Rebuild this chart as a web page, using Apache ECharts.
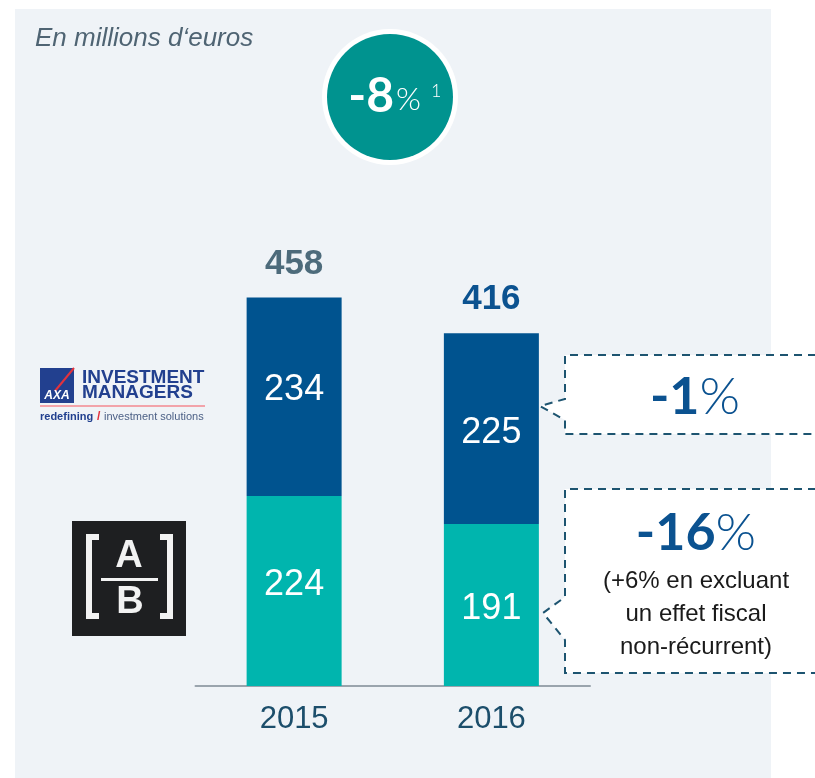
<!DOCTYPE html>
<html lang="fr">
<head>
    <meta charset="UTF-8">
    <title>Résultat opérationnel</title>
    <style>
        *{
            margin: 0;
            padding: 0;
        }
        body{
            background: #fff;
        }
        .main{
            width: 815px;
            height: 778px;
        }
    </style>
    <script src="https://cdn.jsdelivr.net/npm/echarts@6/dist/echarts.min.js"></script>
</head>
<body>
<div class="main"></div>
<script>
    // data
    let years = ['2015', '2016'];
    let abValues = [224, 191];
    let axaValues = [234, 225];
    let totals = [458, 416];
    let totalColors = ['#4d6b7b', '#0b5290'];
    // small nudges of the value labels inside the bars (px)
    let abShift = [-6, 4];
    let axaShift = [-7, 4];

    let main = document.querySelector('.main');
    let chart = echarts.init(main);

    let dash = [8, 6];
    let lineColor = '#1d5470';
    let futura = 'Lato, "Noto Sans", sans-serif';

    let graphic = [
        // light panel
        {type: 'rect', z: -10, shape: {x: 15, y: 9, width: 756, height: 769}, style: {fill: '#eff3f7'}},
        {type: 'text', left: 35, top: 26, style: {text: 'En millions d‘euros', font: 'italic 26px "Liberation Sans", Arial', fill: '#4f6473'}},
        // evolution badge
        {type: 'circle', shape: {cx: 390, cy: 97, r: 68}, style: {fill: '#fff'}},
        {type: 'circle', shape: {cx: 390, cy: 97, r: 63}, style: {fill: '#00938f'}},
        {type: 'text', x: 394, y: 97, style: {text: '-8', font: 'bold 48px ' + futura, fill: '#fff', textAlign: 'right', textVerticalAlign: 'middle'}},
        {type: 'text', x: 396, y: 100, style: {text: '%', font: '300 32px ' + futura, fill: '#fff', textAlign: 'left', textVerticalAlign: 'middle'}},
        {type: 'text', x: 431, y: 91, style: {text: '1', font: '300 18px ' + futura, fill: '#fff', textAlign: 'left', textVerticalAlign: 'middle'}},

        // AXA IM logo
        {type: 'rect', shape: {x: 40, y: 368, width: 34, height: 35}, style: {fill: '#22408f'}},
        {type: 'line', shape: {x1: 55, y1: 391, x2: 74, y2: 368}, style: {stroke: '#e2323d', lineWidth: 2}},
        {type: 'text', x: 57, y: 396, style: {text: 'AXA', font: 'bold italic 12px "Liberation Sans", Arial', fill: '#fff', textAlign: 'center', textVerticalAlign: 'middle'}},
        {type: 'text', x: 82, y: 378, style: {text: 'INVESTMENT', font: 'bold 19px "Liberation Sans Narrow", "Liberation Sans", Arial', fill: '#22408f', textVerticalAlign: 'middle'}},
        {type: 'text', x: 82, y: 393, style: {text: 'MANAGERS', font: 'bold 19px "Liberation Sans Narrow", "Liberation Sans", Arial', fill: '#22408f', textVerticalAlign: 'middle'}},
        {type: 'line', shape: {x1: 40, y1: 406, x2: 205, y2: 406}, style: {stroke: '#f2a3aa', lineWidth: 2}},
        {type: 'text', x: 40, y: 417, style: {text: 'redefining', font: 'bold 11px "Liberation Sans", Arial', fill: '#22408f', textVerticalAlign: 'middle'}},
        {type: 'text', x: 97, y: 417, style: {text: '/', font: 'bold 12px "Liberation Sans", Arial', fill: '#e2323d', textVerticalAlign: 'middle'}},
        {type: 'text', x: 104, y: 417, style: {text: 'investment solutions', font: '11px "Liberation Sans", Arial', fill: '#4b5f85', textVerticalAlign: 'middle'}},

        // AB logo
        {type: 'rect', shape: {x: 72, y: 521, width: 114, height: 115}, style: {fill: '#1e1f21'}},
        {type: 'polyline', shape: {points: [[99, 537], [89, 537], [89, 616], [99, 616]]}, style: {stroke: '#f2f2f2', lineWidth: 6, fill: null}},
        {type: 'polyline', shape: {points: [[160, 537], [170, 537], [170, 616], [160, 616]]}, style: {stroke: '#f2f2f2', lineWidth: 6, fill: null}},
        {type: 'text', x: 129, y: 557, style: {text: 'A', font: 'bold 38px "Liberation Sans", Arial', fill: '#f2f2f2', textAlign: 'center', textVerticalAlign: 'middle'}},
        {type: 'rect', shape: {x: 101, y: 578, width: 57, height: 3}, style: {fill: '#f2f2f2'}},
        {type: 'text', x: 130, y: 603, style: {text: 'B', font: 'bold 38px "Liberation Sans", Arial', fill: '#f2f2f2', textAlign: 'center', textVerticalAlign: 'middle'}},

        // callout for AXA IM
        {type: 'polygon', z: 10, shape: {points: [[830, 355], [565, 355], [565, 399], [540, 406], [565, 420], [565, 434], [830, 434]]},
            style: {fill: '#fff', stroke: lineColor, lineWidth: 2, lineDash: dash}},
        {type: 'text', z: 11, x: 695, y: 397, style: {text: '{a|-1}{b|%}', textAlign: 'center', textVerticalAlign: 'middle',
            rich: {a: {font: 'bold 52px ' + futura, fill: '#0b5290'}, b: {font: '300 52px ' + futura, fill: '#0b5290'}}}},

        // callout for AB
        {type: 'polygon', z: 10, shape: {points: [[830, 489], [565, 489], [565, 597], [543, 613], [565, 640], [565, 673], [830, 673]]},
            style: {fill: '#fff', stroke: lineColor, lineWidth: 2, lineDash: dash}},
        {type: 'text', z: 11, x: 696, y: 533, style: {text: '{a|-16}{b|%}', textAlign: 'center', textVerticalAlign: 'middle',
            rich: {a: {font: 'bold 52px ' + futura, fill: '#0b5290'}, b: {font: '300 52px ' + futura, fill: '#0b5290'}}}},
        {type: 'text', z: 11, x: 696, y: 614, style: {text: '(+6% en excluant\nun effet fiscal\nnon-récurrent)', textAlign: 'center', textVerticalAlign: 'middle',
            font: '24px "Liberation Sans", Arial', lineHeight: 33, fill: '#1a1a1a'}}
    ];

    let barLabel = {show: true, position: 'inside', color: '#fff', fontSize: 36, fontFamily: '"Liberation Sans", Arial'};

    let option = {
        backgroundColor: '#fff',
        animation: false,
        grid: {left: 195.5, right: 225, top: 262, bottom: 92},
        xAxis: {
            type: 'category',
            data: years,
            axisLine: {lineStyle: {color: '#9aa4ad', width: 2}},
            axisTick: {show: false},
            axisLabel: {fontSize: 31, color: '#1c4e6b', margin: 18, fontFamily: '"Liberation Sans", Arial'}
        },
        yAxis: {
            type: 'value',
            min: 0,
            max: 500,
            show: false,
            splitLine: {show: false}
        },
        series: [
            {
                name: 'AB',
                type: 'bar',
                stack: 'total',
                barWidth: 95,
                data: abValues.map((v, i) => ({value: v, label: {offset: [0, abShift[i]]}})),
                itemStyle: {color: '#00b5ae'},
                label: barLabel
            },
            {
                name: 'AXA IM',
                type: 'bar',
                stack: 'total',
                barWidth: 95,
                data: axaValues.map((v, i) => ({value: v, label: {offset: [0, axaShift[i]]}})),
                itemStyle: {color: '#00538f'},
                label: barLabel
            },
            {
                name: 'Total',
                type: 'scatter',
                symbolSize: 0,
                itemStyle: {opacity: 1},
                data: totals.map((v, i) => ({value: [i, v], label: {color: totalColors[i]}})),
                label: {show: true, position: 'top', distance: 16, fontSize: 35, fontWeight: 'bold',
                    fontFamily: '"Liberation Sans", Arial', formatter: p => p.value[1]}
            }
        ],
        graphic
    };
    chart.setOption(option);
</script>
</body>
</html>
